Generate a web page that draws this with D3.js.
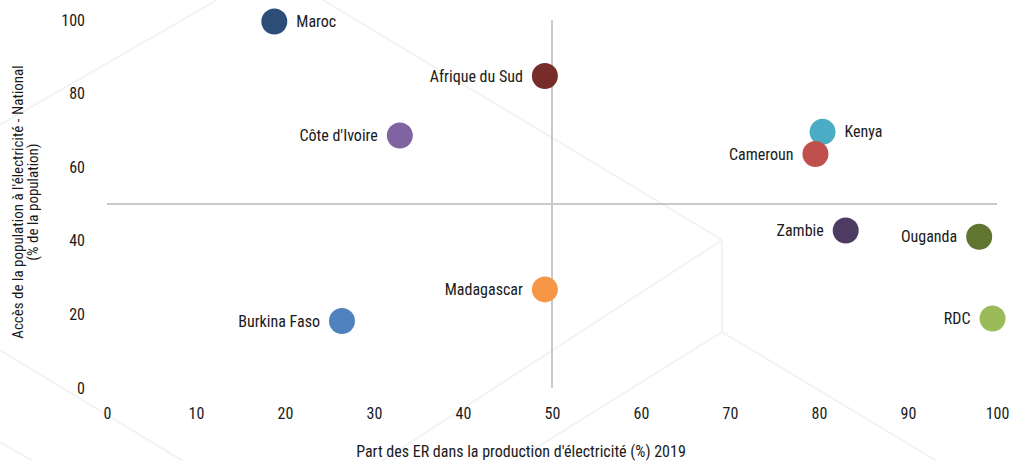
<!DOCTYPE html>
<html>
<head>
<meta charset="utf-8">
<script src="https://cdn.jsdelivr.net/npm/d3@7"></script>
<style>
  html, body { margin: 0; padding: 0; background: #ffffff; }
  svg { display: block; }
  text { font-family: "Liberation Sans Narrow", "Arial Narrow", "Roboto Condensed", sans-serif; fill: #1a1a1a; }
</style>
</head>
<body>
<svg id="chart" width="1021" height="461"></svg>
<script>
// Pays, part des ER (%) et accès à l'électricité (%)
const countries = ["Maroc", "Afrique du Sud", "Côte d'Ivoire", "Kenya", "Cameroun", "Zambie", "Ouganda", "RDC", "Madagascar", "Burkina Faso"];
const renewableShare = [18.8, 49.2, 32.9, 80.4, 79.6, 83.0, 98.0, 99.5, 49.2, 26.4];
const electricityAccess = [99.6, 84.8, 68.6, 69.6, 63.6, 42.8, 41.1, 18.9, 26.8, 18.2];
const pointColors = ["#2c4d75", "#772c2a", "#8064a2", "#4bacc6", "#c0504d", "#4d3b62", "#5f7530", "#9bbb59", "#f79646", "#4f81bd"];
const labelSide = ["right", "left", "left", "right", "left", "left", "left", "left", "left", "left"];
const xTicks = [0, 10, 20, 30, 40, 50, 60, 70, 80, 90, 100];
const yTicks = [0, 20, 40, 60, 80, 100];
const xTitle = "Part des ER dans la production d'électricité (%) 2019";
const yTitleLines = ["Accès de la population à l'électricité - National", "(% de la population)"];

const svg = d3.select("#chart");

// Motif de fond : arêtes d'hexagones très claires
const deco = [
  [[0, 125], [217, 0]],
  [[323, 0], [722, 240]],
  [[722, 240], [722, 332]],
  [[722, 240], [382, 461]],
  [[722, 332], [515, 461]],
  [[722, 332], [937, 461]],
  [[0, 350], [183, 461]],
  [[0, 442], [33, 461]]
];
svg.append("g").selectAll("line").data(deco).join("line")
  .attr("x1", d => d[0][0]).attr("y1", d => d[0][1])
  .attr("x2", d => d[1][0]).attr("y2", d => d[1][1])
  .attr("stroke", "#f3f3f3").attr("stroke-width", 2);

const x = d3.scaleLinear().domain([0, 100]).range([107, 997]);
const y = d3.scaleLinear().domain([0, 100]).range([388, 20]);

// Axes sans ligne ni graduations
const xAxis = svg.append("g").attr("transform", "translate(0,408)")
  .call(d3.axisBottom(x).tickValues(xTicks).tickSize(0).tickPadding(0));
xAxis.select(".domain").remove();
xAxis.selectAll("text").attr("font-size", 16).attr("dy", "0.71em")
  .attr("font-family", null);

const yAxis = svg.append("g").attr("transform", "translate(85,0)")
  .call(d3.axisLeft(y).tickValues(yTicks).tickSize(0).tickPadding(0));
yAxis.select(".domain").remove();
yAxis.selectAll("text").attr("font-size", 16).attr("font-family", null);

// Lignes de quadrants à 50 / 50
svg.append("line")
  .attr("x1", x(50)).attr("x2", x(50)).attr("y1", y(100)).attr("y2", y(0))
  .attr("stroke", "#c8c8c8").attr("stroke-width", 2);
svg.append("line")
  .attr("x1", x(0)).attr("x2", x(100)).attr("y1", y(50)).attr("y2", y(50))
  .attr("stroke", "#c8c8c8").attr("stroke-width", 2);

// Titres des axes
svg.append("text")
  .attr("x", 521).attr("y", 457)
  .attr("text-anchor", "middle").attr("font-size", 16)
  .text(xTitle);

const yTitle = svg.append("text")
  .attr("transform", "translate(23,202) rotate(-90)")
  .attr("text-anchor", "middle").attr("font-size", 15);
yTitle.selectAll("tspan").data(yTitleLines).join("tspan")
  .attr("x", 0).attr("dy", (d, i) => i === 0 ? 0 : "1.0em")
  .text(d => d);

// Points et étiquettes
const data = countries.map((c, i) => ({
  name: c, xv: renewableShare[i], yv: electricityAccess[i], color: pointColors[i], side: labelSide[i]
}));

const g = svg.append("g");
g.selectAll("circle").data(data).join("circle")
  .attr("cx", d => x(d.xv)).attr("cy", d => y(d.yv))
  .attr("r", 13)
  .attr("fill", d => d.color);

g.selectAll("text.lbl").data(data).join("text")
  .attr("class", "lbl")
  .attr("x", d => x(d.xv) + (d.side === "right" ? 22 : -22))
  .attr("y", d => y(d.yv))
  .attr("dy", "0.35em")
  .attr("text-anchor", d => d.side === "right" ? "start" : "end")
  .attr("font-size", 16)
  .text(d => d.name);
</script>
</body>
</html>
